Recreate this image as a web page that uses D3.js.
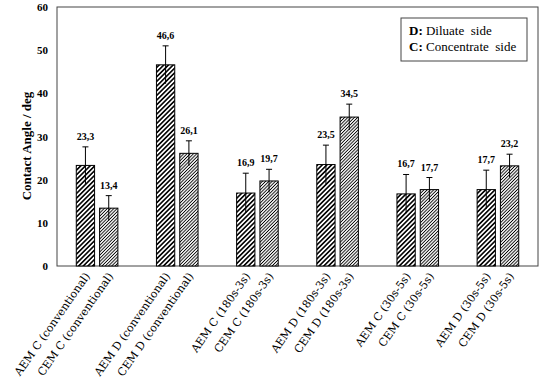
<!DOCTYPE html>
<meta charset="utf-8">
<style>
  body, html { margin:0; padding:0; background:#fff; }
  svg { display:block; }
  .num { font: bold 10px "Liberation Serif", "Times New Roman", serif; }
  .tick text { font: bold 11px "Liberation Serif", serif; }
  .xlab { font: 11px "DejaVu Serif", serif; }
</style>
<body>
<svg width="550" height="388"></svg>
<script src="https://d3js.org/d3.v7.min.js"></script>
<script>

// groups along the x axis
var groups = ["conventional C", "conventional D", "180s-3s C", "180s-3s D", "30s-5s C", "30s-5s D"];
var aemLabels = ["AEM C (conventional)", "AEM D (conventional)", "AEM C (180s-3s)", "AEM D (180s-3s)", "AEM C (30s-5s)", "AEM D (30s-5s)"];
var cemLabels = ["CEM C (conventional)", "CEM D (conventional)", "CEM C (180s-3s)", "CEM D (180s-3s)", "CEM C (30s-5s)", "CEM D (30s-5s)"];
var aemValues = [23.3, 46.6, 16.9, 23.5, 16.7, 17.7];
var cemValues = [13.4, 26.1, 19.7, 34.5, 17.7, 23.2];
var aemErr = [4.3, 4.4, 4.6, 4.5, 4.5, 4.5];
var cemErr = [2.9, 2.9, 2.7, 3.0, 2.8, 2.7];
var yTicks = [0, 10, 20, 30, 40, 50, 60];

var recs = [];
groups.forEach(function(g, i) {
    recs.push({group: g, kind: "AEM", label: aemLabels[i], value: aemValues[i], err: aemErr[i]});
    recs.push({group: g, kind: "CEM", label: cemLabels[i], value: cemValues[i], err: cemErr[i]});
});

var svg = d3.select("svg");
var margin = {left: 57, right: 538, top: 7, bottom: 266};

var x0 = d3.scaleBand()
    .domain(groups)
    .range([margin.left, margin.right])
    .paddingInner(0.481)
    .paddingOuter(0.2405);

var x1 = d3.scaleBand()
    .domain(["AEM", "CEM"])
    .range([0, x0.bandwidth()])
    .paddingInner(0.215);

var y = d3.scaleLinear()
    .domain([0, 60])
    .range([margin.bottom, margin.top]);

// hatch patterns
var defs = svg.append("defs");
function hatch(id, s, w) {
    var p = defs.append("pattern")
        .attr("id", id)
        .attr("patternUnits", "userSpaceOnUse")
        .attr("width", s)
        .attr("height", s)
        .attr("patternTransform", "rotate(45)");
    p.append("rect").attr("width", s).attr("height", s).attr("fill", "#fff");
    p.append("line")
        .attr("x1", s / 2).attr("y1", 0)
        .attr("x2", s / 2).attr("y2", s)
        .attr("stroke", "#000")
        .attr("stroke-width", w);
}
hatch("hAEM", 3.3, 1.6);
hatch("hCEM", 2.3, 0.9);

// frame
svg.append("rect")
    .attr("x", margin.left).attr("y", margin.top)
    .attr("width", margin.right - margin.left).attr("height", margin.bottom - margin.top)
    .attr("fill", "none")
    .attr("stroke", "#444")
    .attr("stroke-width", 1);

// y axis
var yAxis = svg.append("g")
    .attr("transform", "translate(" + margin.left + ",0)")
    .call(d3.axisLeft(y).tickValues(yTicks).tickSize(0).tickPadding(9));
yAxis.select(".domain").remove();
yAxis.selectAll(".tick text").attr("fill", "#000");

svg.append("text")
    .attr("transform", "translate(31,146) rotate(-90)")
    .attr("text-anchor", "middle")
    .style("font", "bold 13px 'Liberation Serif', serif")
    .text("Contact Angle / deg");

// bars
var bar = svg.selectAll(".bar")
    .data(recs)
    .enter().append("g")
    .attr("class", "bar")
    .attr("transform", function(d) {
        return "translate(" + (x0(d.group) + x1(d.kind)) + ",0)";
    });

bar.append("rect")
    .attr("x", 0)
    .attr("y", function(d) { return y(d.value); })
    .attr("width", x1.bandwidth())
    .attr("height", function(d) { return y(0) - y(d.value); })
    .attr("fill", function(d) { return d.kind == "AEM" ? "url(#hAEM)" : "url(#hCEM)"; })
    .attr("stroke", "#000")
    .attr("stroke-width", 1);

var cx = x1.bandwidth() / 2;
bar.append("line")
    .attr("x1", cx).attr("x2", cx)
    .attr("y1", function(d) { return y(d.value - d.err); })
    .attr("y2", function(d) { return y(d.value + d.err); })
    .attr("stroke", "#000");
bar.append("line")
    .attr("x1", cx - 3).attr("x2", cx + 3)
    .attr("y1", function(d) { return y(d.value + d.err); })
    .attr("y2", function(d) { return y(d.value + d.err); })
    .attr("stroke", "#000");

bar.append("text")
    .attr("class", "num")
    .attr("x", cx)
    .attr("y", function(d) { return y(d.value + d.err) - 7; })
    .attr("text-anchor", "middle")
    .text(function(d) { return String(d.value).replace(".", ","); });

// x labels
bar.append("text")
    .attr("class", "xlab")
    .attr("text-anchor", "end")
    .attr("transform", "translate(" + (cx + 5) + "," + (margin.bottom + 10) + ") rotate(-55)")
    .text(function(d) { return d.label; });

// legend
var lg = svg.append("g").attr("transform", "translate(401,18)");
lg.append("rect")
    .attr("width", 126).attr("height", 43)
    .attr("fill", "#fff")
    .attr("stroke", "#444");
var lt = [["D:", " Diluate  side"], ["C:", " Concentrate  side"]];
lg.selectAll("text")
    .data(lt)
    .enter().append("text")
    .attr("x", 8)
    .attr("y", function(d, i) { return 17 + i * 15.5; })
    .style("font", "13px 'Liberation Serif', serif")
    .style("white-space", "pre")
    .each(function(d) {
        d3.select(this).append("tspan").style("font-weight", "bold").text(d[0]);
        d3.select(this).append("tspan").text(d[1]);
    });

</script>
</body>
